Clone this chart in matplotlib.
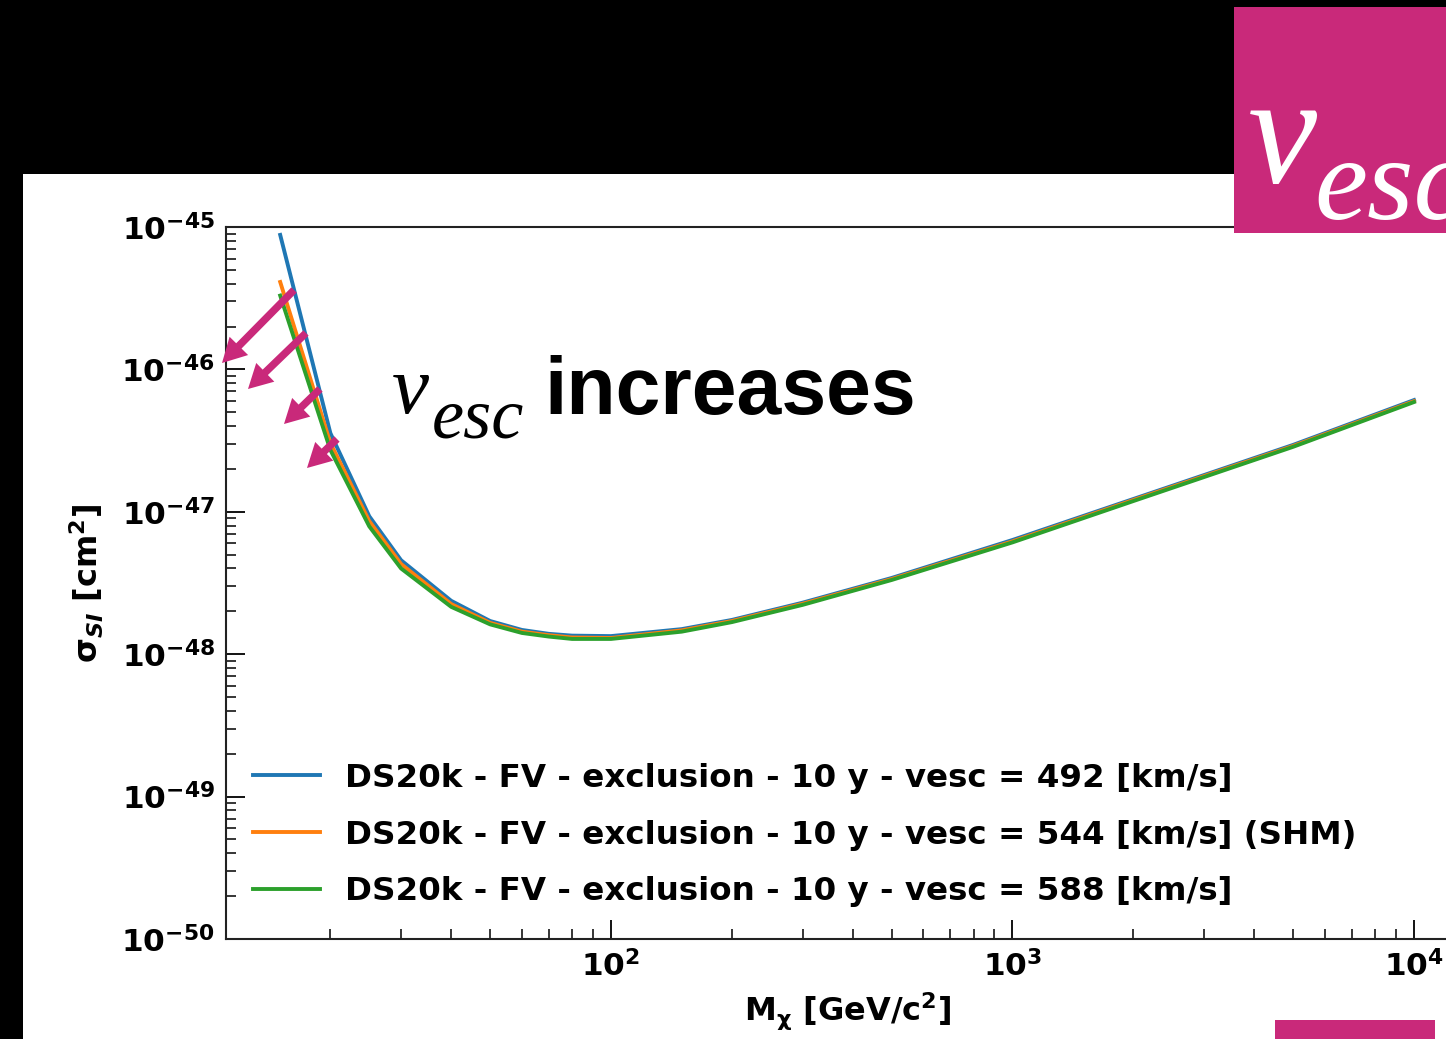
import matplotlib
matplotlib.use("Agg")
import matplotlib.pyplot as plt
from matplotlib.patches import Rectangle, FancyArrow
import numpy as np

# ---------------- data ----------------
mass = [15, 20, 25, 30, 40, 50, 60, 70, 80, 100, 150, 200, 300, 500, 1000, 2000, 5000, 10000]
sigma_492 = [8.8e-46, 3.57e-47, 9.3e-48, 4.57e-48, 2.37e-48, 1.71e-48, 1.48e-48, 1.39e-48, 1.35e-48,
             1.34e-48, 1.50e-48, 1.74e-48, 2.30e-48, 3.43e-48, 6.34e-48, 1.23e-47, 2.95e-47, 6.09e-47]
sigma_544 = [4.11e-46, 3.04e-47, 8.6e-48, 4.30e-48, 2.25e-48, 1.66e-48, 1.44e-48, 1.36e-48, 1.31e-48,
             1.30e-48, 1.47e-48, 1.71e-48, 2.26e-48, 3.37e-48, 6.20e-48, 1.21e-47, 2.90e-47, 5.98e-47]
sigma_588 = [3.3e-46, 2.72e-47, 7.9e-48, 4.00e-48, 2.15e-48, 1.62e-48, 1.41e-48, 1.33e-48, 1.28e-48,
             1.28e-48, 1.44e-48, 1.68e-48, 2.22e-48, 3.32e-48, 6.10e-48, 1.19e-47, 2.86e-47, 5.90e-47]
labels = ["DS20k - FV - exclusion - 10 y - vesc = 492 [km/s]",
          "DS20k - FV - exclusion - 10 y - vesc = 544 [km/s] (SHM)",
          "DS20k - FV - exclusion - 10 y - vesc = 588 [km/s]"]
colors = ["#1f77b4", "#ff7f0e", "#2ca02c"]

MAGENTA = "#c9297a"
W, H = 1446, 1039

plt.rcParams['font.family'] = ['DejaVu Sans']
plt.rcParams['font.weight'] = 'bold'
plt.rcParams['axes.labelweight'] = 'bold'
plt.rcParams['mathtext.default'] = 'regular'

fig = plt.figure(figsize=(W / 100, H / 100), dpi=100, facecolor='black')

def fx(x):
    return x / W

def fy(y):
    return 1 - y / H

# white slide panel
fig.add_artist(Rectangle((fx(23), 0), 1 - fx(23), fy(174), transform=fig.transFigure,
                         facecolor='white', edgecolor='none', zorder=-10))

# axes: left 226, right ~1470 (beyond figure), top 227, bottom 939
ax = fig.add_axes([fx(226), fy(939), (1470 - 226) / W, (939 - 227) / H])
ax.set_facecolor('white')

for s, c, lab in zip([sigma_492, sigma_544, sigma_588], colors, labels):
    ax.plot(mass, s, color=c, lw=2.8, label=lab)

ax.set_xscale('log')
ax.set_yscale('log')
ax.set_xlim(10 ** (2 - 385 / 401.5), 10 ** (2 + 859 / 401.5))
ax.set_ylim(1e-50, 1e-45)

ax.tick_params(which='both', direction='in', top=False, right=False, labelsize=22.5)
ax.tick_params(which='major', length=14, width=1.3, pad=8)
ax.tick_params(which='minor', length=7, width=1.1)
for sp in ax.spines.values():
    sp.set_linewidth(1.5)
    sp.set_color('#222222')

ax.set_xlabel(r'M$_{\chi}$ [GeV/c$^{2}$]', fontsize=23, fontweight='bold', labelpad=6)
ax.set_ylabel(r'$\sigma_{\mathit{SI}}$ [cm$^{2}$]', fontsize=23, fontweight='bold', labelpad=11)

leg = ax.legend(loc='center left', bbox_to_anchor=(0.0217, 0.146), frameon=False,
                prop={'size': 23.4, 'weight': 'bold'}, handlelength=2.06, handletextpad=0.77,
                labelspacing=0.79, borderpad=0, borderaxespad=0)

# magenta arrows
arrows = [((294, 290), (222, 363)), ((306, 333), (248, 389)),
          ((320, 389), (284, 424)), ((337, 439), (307, 468))]
for (x0, y0), (x1, y1) in arrows:
    a = FancyArrow(x0, H - y0, x1 - x0, -(y1 - y0), width=7.5, head_width=26, head_length=24,
                   length_includes_head=True, transform=matplotlib.transforms.IdentityTransform(),
                   facecolor=MAGENTA, edgecolor='none', zorder=20)
    fig.add_artist(a)

# slide annotation text
fig.text(fx(392), fy(413), 'v', family='Liberation Serif', style='italic', weight='normal',
         fontsize=60, ha='left', va='baseline', color='black', zorder=20)
fig.text(fx(432), fy(438), 'esc', family='Liberation Serif', style='italic', weight='normal',
         fontsize=52, ha='left', va='baseline', color='black', zorder=20)
fig.text(fx(544), fy(414), 'increases', family='Liberation Sans', weight='bold',
         fontsize=58, ha='left', va='baseline', color='black', zorder=20)

# top-right magenta box with v_esc
fig.add_artist(Rectangle((fx(1234), fy(233)), 1 - fx(1234) + 0.01, fy(7) - fy(233),
                         transform=fig.transFigure, facecolor=MAGENTA, edgecolor='none', zorder=15))
fig.text(fx(1248), fy(182), 'v', family='Liberation Serif', style='italic', weight='normal',
         fontsize=112, ha='left', va='baseline', color='white', zorder=21)
fig.text(fx(1314), fy(219), 'esc', family='Liberation Serif', style='italic', weight='normal',
         fontsize=86, ha='left', va='baseline', color='white', zorder=21)

# bottom-right magenta bar
fig.add_artist(Rectangle((fx(1275), 0), fx(1435) - fx(1275), fy(1020),
                         transform=fig.transFigure, facecolor=MAGENTA, edgecolor='none', zorder=15))

fig.savefig('out.png', dpi=100, facecolor=fig.get_facecolor())
